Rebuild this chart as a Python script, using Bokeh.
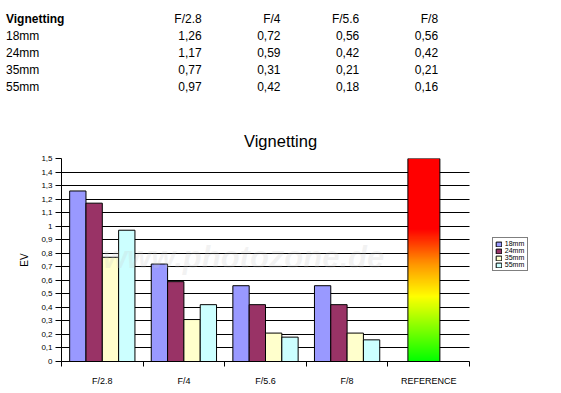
import numpy as np
from bokeh.plotting import figure
from bokeh.models import (Range1d, FixedTicker, CustomJSTickFormatter, Legend,
                          LegendItem, Label, Div)
from bokeh.layouts import column
from bokeh.embed import file_html
from bokeh.resources import INLINE

# ---------------- data ----------------
apertures = ["F/2.8", "F/4", "F/5.6", "F/8"]
reference_label = "REFERENCE"
reference_value = 1.5
lenses = ["18mm", "24mm", "35mm", "55mm"]
ev_18mm = [1.26, 0.72, 0.56, 0.56]
ev_24mm = [1.17, 0.59, 0.42, 0.42]
ev_35mm = [0.77, 0.31, 0.21, 0.21]
ev_55mm = [0.97, 0.42, 0.18, 0.16]
y_ticks = [round(0.1 * i, 1) for i in range(16)]

series = [ev_18mm, ev_24mm, ev_35mm, ev_55mm]
colors = ["#9999FF", "#993366", "#FFFFCC", "#CCFFFF"]
FONT = "Liberation Sans"

# gradient for the reference bar (style)
grad_v = [0.0, 0.48, 0.72, 0.98, 1.5]
grad_r = [0, 255, 255, 255, 255]
grad_g = [255, 255, 150, 0, 0]

W = 553
LEFT, RIGHT = 61, 10
FRAME_W = W - LEFT - RIGHT      # drawing area incl. legend space
CAT_W = 408                     # pixel width of the category area

# ---------------- table (HTML text) ----------------
row_y = [19.3 + 16.8 * i for i in range(len(lenses) + 1)]
col_x = [201.7 + 78.8 * i for i in range(len(apertures))]


def span(x, y, txt, align, bold=False):
    w = 120
    left = x if align == "left" else x - w
    fw = "font-weight:bold;" if bold else ""
    return (f'<span style="position:absolute;left:{left:.1f}px;top:{y - 7:.1f}px;'
            f'width:{w}px;text-align:{align};line-height:14px;{fw}white-space:nowrap">'
            f'{txt}</span>')


parts = [span(6, row_y[0], "Vignetting", "left", True)]
for c, a in enumerate(apertures):
    parts.append(span(col_x[c], row_y[0], a, "right"))
for r, (name, vals) in enumerate(zip(lenses, series)):
    parts.append(span(6, row_y[r + 1], name, "left"))
    for c, v in enumerate(vals):
        parts.append(span(col_x[c], row_y[r + 1], f"{v:.2f}".replace(".", ","), "right"))

html = (f'<div style="position:relative;width:{W}px;height:100px;overflow:hidden;'
        "font-family:'Liberation Sans';font-size:12px;color:black;margin:0;padding:0\">"
        + "".join(parts) + "</div>")
table = Div(text=html, width=W, height=100, margin=0)

# ---------------- chart ----------------
n_cat = len(apertures)
x_end = (n_cat + 1) * FRAME_W / CAT_W
p = figure(width=W, height=288, x_range=Range1d(0, x_end),
           y_range=Range1d(0, reference_value), toolbar_location=None,
           output_backend="svg", min_border_left=LEFT, min_border_right=RIGHT,
           min_border_top=58, min_border_bottom=27)
p.outline_line_color = None
p.background_fill_color = "white"
p.border_fill_color = "white"

p.title.text = "Vignetting"
p.title.align = "left"
p.title.offset = 182.5
p.title.standoff = 17
p.title.text_font = FONT
p.title.text_font_size = "16.5px"
p.title.text_font_style = "normal"
p.title.text_color = "black"

idx = np.arange(n_cat)
items = []
for k, (name, vals, col) in enumerate(zip(lenses, series, colors)):
    r = p.vbar(x=idx + 0.2 + 0.2 * k, top=vals, bottom=0, width=0.2,
               fill_color=col, line_color="black", line_width=1)
    items.append(LegendItem(label=name, renderers=[r]))

# reference bar with vertical gradient
N = 300
vv = (np.arange(N) + 0.5) / N * reference_value
img = np.empty((N, 1), dtype=np.uint32)
view = img.view(dtype=np.uint8).reshape((N, 1, 4))
view[:, 0, 0] = np.interp(vv, grad_v, grad_r).astype(np.uint8)
view[:, 0, 1] = np.interp(vv, grad_v, grad_g).astype(np.uint8)
view[:, 0, 2] = 0
view[:, 0, 3] = 255
ref_left = n_cat + 0.245
ref_w = 0.392
p.image_rgba(image=[img], x=ref_left, y=0, dw=ref_w, dh=reference_value)
p.quad(left=[ref_left], right=[ref_left + ref_w], bottom=[0], top=[reference_value],
       fill_color=None, line_color="black", line_width=1)

# y axis
p.yaxis.ticker = FixedTicker(ticks=y_ticks)
p.yaxis.formatter = CustomJSTickFormatter(
    code="return tick.toFixed(1).replace('.', ',').replace(/,0$/, '');")
p.yaxis.axis_label = "EV"
p.yaxis.axis_label_text_font = FONT
p.yaxis.axis_label_text_font_size = "10px"
p.yaxis.axis_label_text_font_style = "normal"
p.yaxis.axis_label_text_color = "black"
p.yaxis.axis_label_standoff = 8
p.yaxis.major_label_text_font = FONT
p.yaxis.major_label_text_font_size = "8px"
p.yaxis.major_label_text_color = "black"
p.yaxis.major_label_standoff = 3
p.yaxis.major_tick_in = 0
p.yaxis.major_tick_out = 6
p.yaxis.minor_tick_line_color = None
p.yaxis.axis_line_color = "black"
p.yaxis.major_tick_line_color = "black"

p.ygrid.ticker = FixedTicker(ticks=y_ticks)
p.ygrid.grid_line_color = "black"
p.ygrid.grid_line_width = 1
p.ygrid.cross_bounds = (0, n_cat + 1)
p.xgrid.grid_line_color = None

# x axis: labels centred in categories, ticks at the boundaries
all_labels = apertures + [reference_label]
p.xaxis.bounds = (0, n_cat + 1)
p.xaxis.ticker = FixedTicker(ticks=[i + 0.5 for i in range(n_cat + 1)],
                             minor_ticks=list(range(n_cat + 2)))
p.xaxis.formatter = CustomJSTickFormatter(args=dict(labels=all_labels),
                                          code="return labels[Math.floor(tick)];")
p.xaxis.major_tick_line_color = None
p.xaxis.major_tick_in = 0
p.xaxis.major_tick_out = 0
p.xaxis.minor_tick_in = 0
p.xaxis.minor_tick_out = 5
p.xaxis.minor_tick_line_color = "black"
p.xaxis.axis_line_color = "black"
p.xaxis.major_label_standoff = 9
p.xaxis.major_label_text_font = FONT
p.xaxis.major_label_text_font_size = "9px"
p.xaxis.major_label_text_color = "black"

# watermark
p.add_layout(Label(x=41.5, y=103.7, x_units="screen", y_units="screen",
                   text="www.photozone.de", text_font=FONT, text_font_size="31px",
                   text_font_style="bold italic", text_color="#c8c8c8",
                   text_alpha=0.22, text_baseline="middle"))

legend = Legend(items=items, location=(430.8, 89.8), border_line_color="black",
                border_line_width=1, background_fill_color="white",
                background_fill_alpha=1, padding=2, spacing=0, margin=0,
                glyph_height=6, glyph_width=7, label_height=6, label_standoff=3,
                label_text_font=FONT, label_text_font_size="7px",
                label_text_color="black")
p.add_layout(legend)

layout = column(table, p, spacing=0)
open("out.html", "w").write(file_html(layout, INLINE))
